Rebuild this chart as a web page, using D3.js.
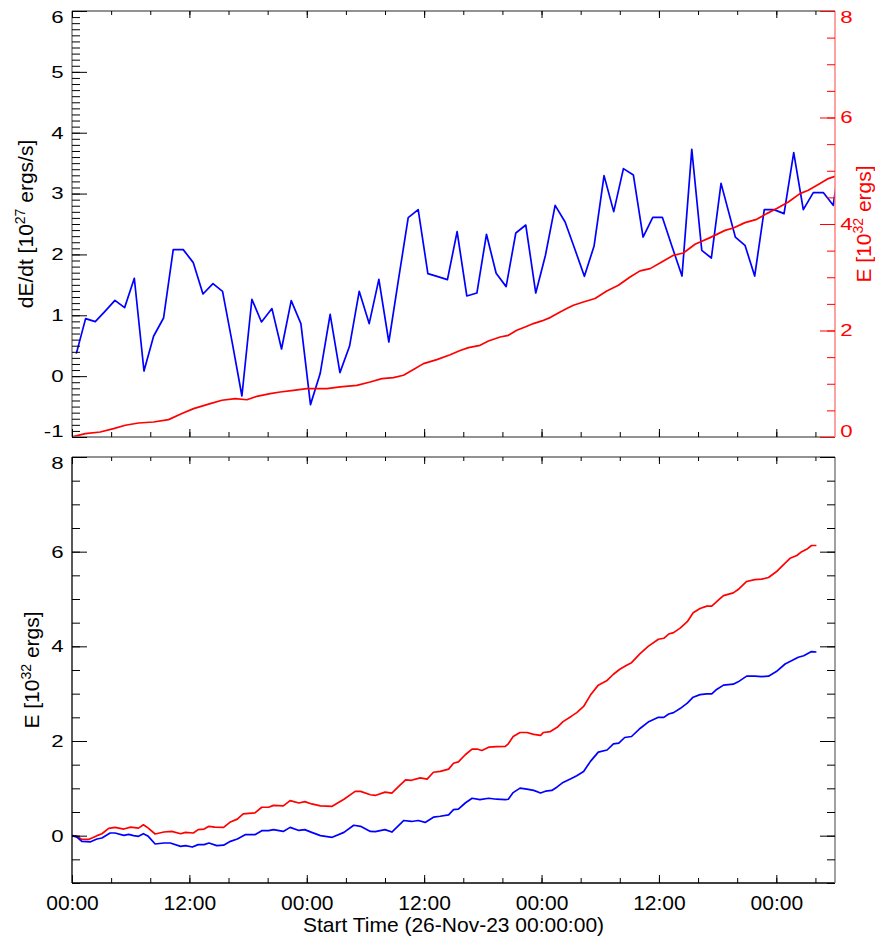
<!DOCTYPE html>
<html>
<head>
<meta charset="utf-8">
<script src="https://cdn.jsdelivr.net/npm/d3@7"></script>
<style>
  body { margin: 0; background: #fff; }
  svg { font-family: "Liberation Sans", Arial, Helvetica, sans-serif; }
</style>
</head>
<body>
<script>
// hours after 26-Nov-23 00:00:00
var rateHours = [0.44, 1.39, 2.38, 3.37, 4.39, 5.38, 6.37, 7.36, 8.34, 9.36,
  10.35, 11.37, 12.40, 13.39, 14.41, 15.39, 16.38, 17.37, 18.39, 19.37,
  20.44, 21.42, 22.41, 23.40, 24.38, 25.37, 26.39, 27.39, 28.37, 29.36,
  30.38, 31.37, 32.39, 33.37, 34.37, 35.39, 36.38, 37.40, 38.38, 39.37,
  40.36, 41.39, 42.37, 43.36, 44.38, 45.37, 46.39, 47.41, 48.40, 49.39,
  50.41, 51.40, 52.38, 53.37, 54.39, 55.38, 56.37, 57.39, 58.38, 59.37,
  60.35, 61.34, 62.36, 63.36, 64.38, 65.36, 66.35, 67.81, 68.80, 69.79,
  70.77, 71.76, 72.79, 73.78, 74.76, 75.78, 76.80, 77.82, 78.80];
var rateValues = [0.37, 0.945, 0.896, 1.065, 1.246, 1.126, 1.608, 0.084, 0.655, 0.955,
  2.079, 2.079, 1.865, 1.350, 1.52, 1.394, 0.55, -0.326, 1.263, 0.89,
  1.11, 0.446, 1.241, 0.863, -0.468, 0.042, 1.016, 0.058, 0.49, 1.394,
  0.863, 1.59, 0.561, 1.58, 2.605, 2.736, 1.685, 1.636, 1.586, 2.375,
  1.317, 1.366, 2.331, 1.69, 1.471, 2.352, 2.483, 1.366, 1.986, 2.807,
  2.533, 2.089, 1.64, 2.138, 3.295, 2.703, 3.41, 3.305, 2.286, 2.61,
  2.61, 2.13, 1.645, 3.727, 2.068, 1.941, 3.168, 2.286, 2.15, 1.645,
  2.736, 2.736, 2.671, 3.673, 2.736, 3.016, 3.016, 2.807, 3.9];

var cumHours = [0, 1.36, 2.89, 4.25, 5.45, 6.81, 8.34, 9.87, 11.24, 12.43,
  14.13, 15.33, 16.69, 17.88, 18.90, 20.26, 21.29, 22.64, 24.01, 26.06,
  27.42, 29.12, 30.48, 31.68, 32.86, 33.89, 34.91, 35.93, 37.30, 38.66,
  39.68, 40.53, 41.72, 42.57, 43.77, 44.61, 45.47, 46.32, 47.17, 48.03,
  48.88, 49.90, 50.58, 51.26, 52.28, 53.47, 54.67, 55.86, 57.05, 58.07,
  59.10, 60.29, 61.48, 62.50, 63.69, 65.23, 66.76, 67.61, 68.80, 69.99,
  71.02, 72.04, 73.23, 74.42, 75.27, 76.47, 77.32, 78.0];
var cumValues = [0, 0.064, 0.094, 0.158, 0.22, 0.263, 0.282, 0.326, 0.44, 0.533,
  0.627, 0.69, 0.72, 0.70, 0.764, 0.815, 0.845, 0.877, 0.909, 0.909,
  0.94, 0.97, 1.033, 1.096, 1.115, 1.159, 1.266, 1.378, 1.453, 1.545,
  1.625, 1.679, 1.722, 1.803, 1.878, 1.91, 2.004, 2.066, 2.13, 2.18,
  2.242, 2.348, 2.411, 2.473, 2.535, 2.6, 2.742, 2.849, 3.005, 3.12,
  3.162, 3.286, 3.412, 3.456, 3.619, 3.744, 3.88, 3.925, 4.026, 4.088,
  4.195, 4.289, 4.413, 4.571, 4.633, 4.759, 4.853, 4.896];

var redHours = [0, 0.5, 1.0, 1.7, 2.55, 3.06, 3.75, 4.4, 5.3, 6.0,
  6.8, 7.3, 7.8, 8.5, 9.4, 10.2, 11.1, 11.6, 12.4, 12.9,
  13.5, 14.0, 14.6, 15.5, 16.2, 16.9, 17.5, 18.7, 19.4, 20.1,
  20.6, 21.6, 22.3, 23.2, 23.8, 24.5, 25.4, 26.6, 27.8, 28.95,
  29.5, 30.5, 31.0, 32.0, 32.7, 33.4, 34.1, 34.7, 35.6, 36.3,
  36.95, 37.64, 38.5, 39.0, 39.5, 40.2, 40.9, 41.4, 41.9, 42.6,
  43.4, 44.3, 44.6, 45.1, 45.8, 46.5, 47.2, 47.9, 48.2, 48.9,
  49.6, 50.2, 51.1, 51.6, 52.3, 53.0, 53.8, 54.7, 55.35, 56.0,
  56.7, 57.2, 58.1, 58.9, 59.95, 60.5, 61.0, 61.5, 62.2, 62.9,
  63.5, 64.2, 64.9, 65.4, 66.1, 66.6, 67.6, 68.1, 68.97, 69.8,
  70.5, 71.2, 72.0, 72.9, 73.4, 74.1, 74.6, 75.1, 75.6, 76.1];
var redValues = [0, -0.01, -0.08, -0.08, 0, 0.04, 0.155, 0.175, 0.14, 0.18,
  0.16, 0.23, 0.16, 0.035, 0.077, 0.09, 0.04, 0.07, 0.056, 0.127,
  0.14, 0.197, 0.18, 0.175, 0.29, 0.35, 0.46, 0.48, 0.6, 0.6,
  0.64, 0.63, 0.74, 0.69, 0.72, 0.67, 0.63, 0.62, 0.77, 0.935,
  0.935, 0.865, 0.85, 0.92, 0.9, 1.04, 1.18, 1.17, 1.22, 1.195,
  1.34, 1.357, 1.406, 1.53, 1.56, 1.71, 1.83, 1.83, 1.80, 1.87,
  1.88, 1.884, 1.94, 2.095, 2.18, 2.18, 2.14, 2.12, 2.18, 2.2,
  2.29, 2.41, 2.53, 2.6, 2.73, 2.97, 3.18, 3.28, 3.41, 3.515,
  3.6, 3.655, 3.85, 4.0, 4.15, 4.17, 4.26, 4.29, 4.39, 4.52,
  4.71, 4.80, 4.85, 4.85, 4.98, 5.07, 5.13, 5.2, 5.37, 5.41,
  5.42, 5.455, 5.575, 5.76, 5.86, 5.92, 6.0, 6.05, 6.13, 6.13];

var blueHours = [0, 0.5, 1.0, 1.9, 2.55, 3.06, 3.9, 4.4, 5.3, 5.8,
  6.3, 6.8, 7.3, 7.8, 8.5, 9.4, 10.05, 11.1, 11.6, 12.3,
  12.9, 13.5, 14.0, 14.8, 15.5, 16.2, 16.9, 17.7, 18.7, 19.4,
  20.1, 20.6, 21.6, 22.3, 23.2, 23.8, 24.5, 25.4, 26.6, 27.8,
  28.8, 29.5, 30.5, 31.0, 32.0, 32.7, 33.9, 34.7, 35.4, 36.1,
  36.95, 37.64, 38.5, 39.0, 39.5, 40.2, 40.9, 41.7, 42.6, 43.4,
  44.3, 44.6, 45.1, 45.8, 46.5, 47.2, 47.9, 48.4, 49.05, 49.6,
  50.2, 51.1, 51.6, 52.3, 53.0, 53.8, 54.7, 55.35, 55.9, 56.5,
  57.2, 58.1, 58.9, 59.95, 60.5, 61.0, 61.5, 62.2, 62.9, 63.5,
  64.2, 64.9, 65.4, 65.9, 66.6, 67.6, 68.1, 68.97, 69.8, 70.5,
  71.2, 72.0, 72.9, 73.6, 74.25, 74.8, 75.6, 76.1];
var blueValues = [0, -0.03, -0.12, -0.13, -0.07, -0.05, 0.056, 0.056, 0.007, 0.028,
  0, -0.014, 0.042, -0.014, -0.176, -0.155, -0.155, -0.225, -0.21, -0.24,
  -0.19, -0.19, -0.155, -0.21, -0.2, -0.12, -0.07, 0.02, 0.02, 0.105,
  0.105, 0.127, 0.09, 0.175, 0.11, 0.127, 0.07, 0, -0.035, 0.07,
  0.22, 0.197, 0.09, 0.084, 0.127, 0.077, 0.32, 0.3, 0.32, 0.28,
  0.39, 0.41, 0.44, 0.55, 0.56, 0.69, 0.79, 0.76, 0.79, 0.77,
  0.76, 0.77, 0.91, 1.005, 0.985, 0.956, 0.9, 0.94, 0.956, 1.03,
  1.125, 1.215, 1.265, 1.357, 1.57, 1.765, 1.81, 1.94, 1.955, 2.074,
  2.095, 2.27, 2.4, 2.5, 2.5, 2.57, 2.6, 2.69, 2.8, 2.925,
  2.98, 2.995, 2.995, 3.09, 3.18, 3.2, 3.25, 3.37, 3.37, 3.36,
  3.37, 3.466, 3.627, 3.70, 3.77, 3.80, 3.89, 3.88];

var rateTicks = [-1, 0, 1, 2, 3, 4, 5, 6];
var energyTicks = [0, 2, 4, 6, 8];
var startTime = Date.UTC(2023, 10, 26, 0, 0, 0);
var spanHours = 78;

var chart = function() {
  var width = 875;
  var height = 942;
  var left = 72;
  var right = 835;
  var top1 = 11, bottom1 = 437;
  var top2 = 457, bottom2 = 883;
  var fontSize = 21;
  var grey = '#6e6e6e';
  var axisRed = '#ff6e6e';
  var svg;

  var toDate = function(h) { return new Date(startTime + h * 3600e3); };

  var x = d3.scaleUtc().domain([toDate(0), toDate(spanHours)]).range([left, right]);
  var yRate = d3.scaleLinear().domain([-1, 6]).range([bottom1, top1]);
  var yCum = d3.scaleLinear().domain([0, 8]).range([bottom1, top1]);
  var yE = d3.scaleLinear().domain([-1, 8]).range([bottom2, top2]);

  var pairs = function(hours, values) {
    return hours.map(function(h, i) { return [toDate(h), values[i]]; });
  };

  var createSvg = function() {
    svg = d3.select('body').append('svg')
      .attr('width', width)
      .attr('height', height);

    var defs = svg.append('defs');
    defs.append('clipPath').attr('id', 'clip1').append('rect')
      .attr('x', left).attr('y', top1).attr('width', right - left).attr('height', bottom1 - top1);
    defs.append('clipPath').attr('id', 'clip2').append('rect')
      .attr('x', left).attr('y', top2).attr('width', right - left).attr('height', bottom2 - top2);
  };

  var styleAxis = function(g, color) {
    g.attr('font-size', fontSize)
      .attr('font-family', '"Liberation Sans", Arial, Helvetica, sans-serif');
    g.select('.domain').remove();
    g.selectAll('line').attr('stroke', color).attr('stroke-width', 1);
    g.selectAll('text').attr('fill', color);
  };

  var drawXAxes = function(top, bottom, withLabels) {
    var fmt = d3.utcFormat('%H:%M');
    svg.append('g').attr('transform', 'translate(0,' + bottom + ')')
      .call(d3.axisBottom(x).ticks(d3.utcHour.every(4)).tickFormat('').tickSizeInner(-5).tickSizeOuter(0))
      .call(styleAxis, '#000');
    svg.append('g').attr('transform', 'translate(0,' + bottom + ')')
      .call(d3.axisBottom(x).ticks(d3.utcHour.every(12)).tickFormat(withLabels ? fmt : '')
        .tickSizeInner(-8).tickSizeOuter(0).tickPadding(12))
      .call(styleAxis, '#000');
    svg.append('g').attr('transform', 'translate(0,' + top + ')')
      .call(d3.axisTop(x).ticks(d3.utcHour.every(4)).tickFormat('').tickSizeInner(-4).tickSizeOuter(0))
      .call(styleAxis, '#000');
    svg.append('g').attr('transform', 'translate(0,' + top + ')')
      .call(d3.axisTop(x).ticks(d3.utcHour.every(12)).tickFormat('').tickSizeInner(-7).tickSizeOuter(0))
      .call(styleAxis, '#000');
  };

  var drawYAxis = function(scale, side, majors, minorStep, color, withLabels) {
    var pos = side === 'left' ? left : right;
    var gen = side === 'left' ? d3.axisLeft : d3.axisRight;
    var d = scale.domain();
    var minors = d3.range(Math.round(d[0] / minorStep), Math.round(d[1] / minorStep) + 1)
      .map(function(k) { return k * minorStep; });
    svg.append('g').attr('transform', 'translate(' + pos + ',0)')
      .call(gen(scale).tickValues(minors).tickFormat('').tickSizeInner(-8).tickSizeOuter(0))
      .call(styleAxis, color);
    var g = svg.append('g').attr('transform', 'translate(' + pos + ',0)')
      .call(gen(scale).tickValues(majors).tickFormat(withLabels ? function(v) { return String(v); } : '')
        .tickSizeInner(-15).tickSizeOuter(0).tickPadding(side === 'left' ? 8 : 5))
      .call(styleAxis, color);
    // squat labels, end labels kept inside the axis span
    g.selectAll('text')
      .attr('transform', 'scale(1.06,0.8)')
      .attr('y', function(v) {
        if(v === d[1]) { return 7.5; }
        if(v === d[0]) { return -7.5; }
        return 0;
      });
  };

  var drawFrame = function(top, bottom, colors) {
    var f = svg.append('g').attr('stroke-width', 1.3);
    f.append('line').attr('x1', left).attr('x2', right).attr('y1', top).attr('y2', top).attr('stroke', colors.top);
    f.append('line').attr('x1', left).attr('x2', right).attr('y1', bottom).attr('y2', bottom).attr('stroke', colors.bottom);
    f.append('line').attr('x1', left).attr('x2', left).attr('y1', top).attr('y2', bottom).attr('stroke', colors.left);
    f.append('line').attr('x1', right).attr('x2', right).attr('y1', top).attr('y2', bottom).attr('stroke', colors.right);
  };

  var drawLine = function(data, yScale, color, clip) {
    var line = d3.line()
      .x(function(p) { return x(p[0]); })
      .y(function(p) { return yScale(p[1]); });
    svg.append('path')
      .datum(data)
      .attr('clip-path', 'url(#' + clip + ')')
      .attr('fill', 'none')
      .attr('stroke', color)
      .attr('stroke-width', 1.7)
      .attr('stroke-linejoin', 'round')
      .attr('d', line);
  };

  var yTitle = function(cx, cy, main, sup, rest, color) {
    var t = svg.append('text')
      .attr('transform', 'translate(' + cx + ',' + cy + ') rotate(-90)')
      .attr('text-anchor', 'middle')
      .attr('font-size', fontSize)
      .attr('fill', color);
    t.append('tspan').text(main);
    t.append('tspan').attr('font-size', 14).attr('dy', -8).text(sup);
    t.append('tspan').attr('dy', 8).text(rest);
  };

  var drawTopPanel = function() {
    drawLine(pairs(rateHours, rateValues), yRate, '#0000ff', 'clip1');
    drawLine(pairs(cumHours, cumValues), yCum, '#ff0000', 'clip1');
    drawFrame(top1, bottom1, { top: grey, bottom: grey, left: grey, right: axisRed });
    drawXAxes(top1, bottom1, false);
    drawYAxis(yRate, 'left', rateTicks, 0.1, '#000', true);
    drawYAxis(yCum, 'right', energyTicks, 0.5, '#ff0000', true);
    yTitle(33, 224, 'dE/dt [10', '27', ' ergs/s]', '#000');
    yTitle(871, 224, 'E [10', '32', ' ergs]', '#ff0000');
  };

  var drawBottomPanel = function() {
    drawLine(pairs(redHours, redValues), yE, '#ff0000', 'clip2');
    drawLine(pairs(blueHours, blueValues), yE, '#0000ff', 'clip2');
    drawFrame(top2, bottom2, { top: grey, bottom: '#000', left: '#000', right: grey });
    drawXAxes(top2, bottom2, true);
    drawYAxis(yE, 'left', energyTicks, 0.5, '#000', true);
    drawYAxis(yE, 'right', energyTicks, 0.5, '#000', false);
    yTitle(39, 670, 'E [10', '32', ' ergs]', '#000');

    svg.append('text')
      .attr('x', (left + right) / 2)
      .attr('y', 932)
      .attr('text-anchor', 'middle')
      .attr('font-size', fontSize)
      .text('Start Time (26-Nov-23 00:00:00)');
  };

  var draw = function() {
    createSvg();
    drawTopPanel();
    drawBottomPanel();
  };

  return { draw: draw };
}();

chart.draw();
</script>
</body>
</html>
